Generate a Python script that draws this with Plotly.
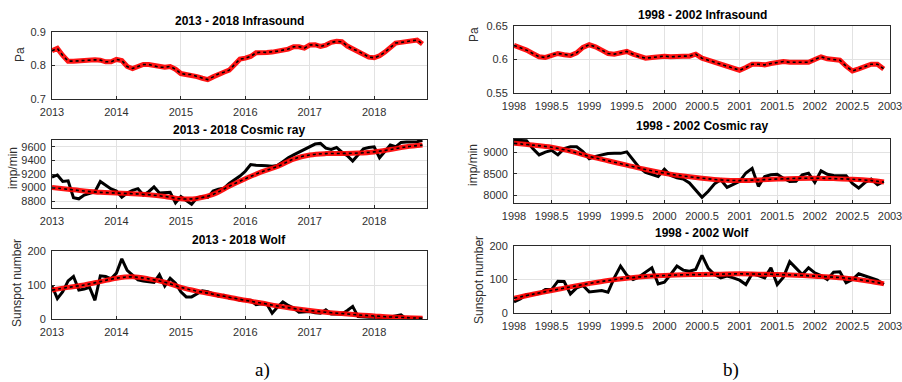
import plotly.graph_objects as go

# ---------------- data: panel a) 2013 - 2018 (monthly, from Jan 2013) ----------------
months_a = list(range(70))
infra_a = [0.844, 0.851, 0.830, 0.813, 0.813, 0.814, 0.816, 0.818, 0.817, 0.816,
           0.811, 0.811, 0.818, 0.815, 0.797, 0.791, 0.798, 0.803, 0.803, 0.800,
           0.795, 0.795, 0.797, 0.789, 0.776, 0.773, 0.773, 0.767, 0.762, 0.758,
           0.766, 0.775, 0.780, 0.786, 0.803, 0.819, 0.822, 0.827, 0.838, 0.840,
           0.839, 0.840, 0.843, 0.846, 0.849, 0.856, 0.856, 0.852, 0.861, 0.862,
           0.857, 0.861, 0.869, 0.872, 0.871, 0.858, 0.849, 0.843, 0.834, 0.825,
           0.823, 0.829, 0.840, 0.855, 0.867, 0.869, 0.872, 0.875, 0.876, 0.864]
cosmic_a = [9153, 9186, 9090, 9100, 8850, 8835, 8890, 8920, 8940, 9090,
            9030, 8980, 8950, 8860, 8920, 8960, 8985, 8890, 8940, 9010,
            8920, 8930, 8930, 8775, 8870, 8810, 8755, 8850, 8870, 8856,
            8950, 8975, 8990, 9060, 9110, 9170, 9240, 9340, 9330, 9320,
            9320, 9315, 9327, 9380, 9440, 9480, 9520, 9550, 9590, 9640,
            9650, 9580, 9560, 9590, 9520, 9470, 9390, 9480, 9570, 9590,
            9600, 9440, 9530, 9625, 9600, 9665, 9670, 9670, 9675, 9694]
wolf_a = [97, 60, 80, 112, 125, 85, 88, 93, 55, 127,
          125, 118, 135, 177, 143, 130, 115, 112, 110, 108,
          130, 97, 120, 105, 80, 65, 65, 75, 83, 80,
          74, 67, 70, 62, 60, 55, 55, 55, 42, 45,
          44, 17, 35, 50, 40, 32, 20, 22, 22, 18,
          17, 27, 15, 15, 15, 25, 37, 7, 5, 5,
          6, 3, 2, 6, 10, 12, 0, 4, 3, 2]
smooth_years_a = [2013.0, 2013.25, 2013.5, 2013.75, 2014.0, 2014.25, 2014.5, 2014.75,
                  2015.0, 2015.25, 2015.5, 2015.75, 2016.0, 2016.25, 2016.5, 2016.75,
                  2017.0, 2017.25, 2017.5, 2017.75, 2018.0, 2018.25, 2018.5, 2018.75]
cosmic_a_smooth = [9000, 8975, 8950, 8930, 8920, 8910, 8895, 8870,
                   8835, 8840, 8900, 9020, 9130, 9230, 9310, 9420,
                   9480, 9500, 9502, 9508, 9525, 9560, 9600, 9625]
wolf_a_smooth = [85, 93, 100, 110, 120, 124, 118, 108,
                 93, 82, 73, 64, 55, 47, 38, 31,
                 25, 20, 16, 12, 9, 6, 4, 2]

# ---------------- data: panel b) 1998 - 2002 (monthly, from Jan 1998) ----------------
months_b = list(range(60))
infra_b = [0.621, 0.618, 0.614, 0.609, 0.604, 0.603, 0.607, 0.609, 0.607, 0.606,
           0.610, 0.618, 0.622, 0.619, 0.614, 0.609, 0.608, 0.610, 0.612, 0.608,
           0.604, 0.602, 0.603, 0.604, 0.605, 0.604, 0.605, 0.605, 0.605, 0.608,
           0.602, 0.599, 0.597, 0.594, 0.591, 0.587, 0.584, 0.588, 0.593, 0.593,
           0.592, 0.594, 0.596, 0.597, 0.596, 0.596, 0.596, 0.596, 0.600, 0.604,
           0.601, 0.600, 0.599, 0.590, 0.583, 0.586, 0.589, 0.593, 0.593, 0.586]
cosmic_b = [9273, 9273, 9260, 9080, 8935, 9000, 9040, 8935, 9080, 9121,
            9121, 9010, 8845, 8900, 8930, 8965, 8970, 8970, 9005, 8830,
            8640, 8530, 8480, 8440, 8606, 8460, 8410, 8380, 8290, 8130,
            7960, 8100, 8270, 8364, 8189, 8260, 8326, 8520, 8625, 8212,
            8439, 8480, 8492, 8400, 8326, 8330, 8477, 8515, 8303, 8568,
            8490, 8460, 8455, 8455, 8280, 8174, 8300, 8379, 8250, 8326]
wolf_b = [33, 42, 55, 55, 58, 70, 70, 95, 94, 57,
          75, 82, 63, 65, 67, 62, 105, 140, 113, 100,
          108, 122, 135, 87, 92, 115, 140, 128, 125, 130,
          172, 133, 115, 105, 110, 105, 98, 85, 117, 112,
          105, 135, 85, 107, 153, 134, 115, 135, 120, 112,
          100, 122, 123, 90, 100, 117, 111, 103, 98, 85]
smooth_years_b = [1998.0, 1998.25, 1998.5, 1998.75, 1999.0, 1999.25, 1999.5, 1999.75,
                  2000.0, 2000.25, 2000.5, 2000.75, 2001.0, 2001.25, 2001.5, 2001.75,
                  2002.0, 2002.25, 2002.5, 2002.75, 2002.92]
cosmic_b_smooth = [9200, 9160, 9110, 9020, 8900, 8800, 8700, 8600,
                   8515, 8450, 8400, 8360, 8345, 8360, 8380, 8395,
                   8400, 8390, 8375, 8345, 8310]
wolf_b_smooth = [44, 56, 67, 78, 88, 97, 104, 109,
                 112, 114, 115, 116, 117, 116, 115, 113,
                 110, 107, 102, 94, 87]

titles = ["2013 - 2018 Infrasound", "2013 - 2018 Cosmic ray", "2013 - 2018 Wolf",
          "1998 - 2002 Infrasound", "1998 - 2002 Cosmic ray", "1998 - 2002 Wolf"]
ylabels = ["Pa", "imp/min", "Sunspot number", "Pa", "imp/min", "Sunspot number"]
xticks_a = [2013, 2014, 2015, 2016, 2017, 2018]
xticks_b = [1998, 1998.5, 1999, 1999.5, 2000, 2000.5, 2001, 2001.5, 2002, 2002.5, 2003]
yticks = [[0.7, 0.8, 0.9], [8800, 9000, 9200, 9400, 9600], [0, 100, 200],
          [0.55, 0.6, 0.65], [8000, 8500, 9000], [0, 100, 200]]
ytick_text = [["0.7", "0.8", "0.9"], ["8800", "9000", "9200", "9400", "9600"], ["0", "100", "200"],
              ["0.55", "0.6", "0.65"], ["8000", "8500", "9000"], ["0", "100", "200"]]

# ---------------- layout geometry (paper fractions) ----------------
W, H = 902, 382
def px_x(x): return x / W
def px_y(y): return 1 - y / H

x_dom = [(52, 427), (514, 890)]
y_dom = [(32, 99), (140, 208), (251, 319), (26, 93), (139, 203), (246, 313)]
y_ranges = [[0.7, 0.9], [8700, 9700], [0, 200], [0.55, 0.65], [7830, 9300], [0, 200]]
x_ranges = [[2013, 2018.82], [1998, 2003]]
title_pos = [21, 130, 240, 15, 126, 233]
ylab_pos = [(20, 55), (13, 168), (17, 283), (474, 35), (473, 165), (479, 280)]

years_a = [2013 + m / 12 for m in months_a]
years_b = [1998 + m / 12 for m in months_b]

fig = go.Figure()

def add_series(idx, xs, ys, data_black, smooth_x=None, smooth_y=None):
    xa = "x" if idx == 0 else f"x{idx + 1}"
    ya = "y" if idx == 0 else f"y{idx + 1}"
    if data_black:
        fig.add_trace(go.Scatter(x=xs, y=ys, mode="lines", xaxis=xa, yaxis=ya,
                                 line=dict(color="black", width=3), showlegend=False,
                                 hoverinfo="skip"))
        sx, sy = smooth_x, smooth_y
        shape = "spline"
    else:
        sx, sy = xs, ys
        shape = "linear"
    fig.add_trace(go.Scatter(x=sx, y=sy, mode="lines", xaxis=xa, yaxis=ya,
                             line=dict(color="rgba(255,0,0,0.92)", width=5, shape=shape),
                             showlegend=False, hoverinfo="skip"))
    fig.add_trace(go.Scatter(x=sx, y=sy, mode="lines", xaxis=xa, yaxis=ya,
                             line=dict(color="black", width=1.6, dash="dot", shape=shape),
                             showlegend=False, hoverinfo="skip"))

add_series(0, years_a, infra_a, False)
add_series(1, years_a, cosmic_a, True, smooth_years_a, cosmic_a_smooth)
add_series(2, years_a, wolf_a, True, smooth_years_a, wolf_a_smooth)
add_series(3, years_b, infra_b, False)
add_series(4, years_b, cosmic_b, True, smooth_years_b, cosmic_b_smooth)
add_series(5, years_b, wolf_b, True, smooth_years_b, wolf_b_smooth)

tickfont = dict(family="Liberation Sans, Arial, sans-serif", size=11, color="#303030")
common = dict(showline=True, linecolor="#2a2a2a", linewidth=1, mirror=True,
              showgrid=True, gridcolor="#e2e2e2", gridwidth=1, zeroline=False,
              ticks="inside", ticklen=3, tickcolor="#2a2a2a", tickfont=tickfont,
              fixedrange=True, automargin=False, ticklabeloverflow="allow")

layout = dict(width=W, height=H, margin=dict(l=0, r=0, t=0, b=0, pad=0),
              paper_bgcolor="white", plot_bgcolor="white", showlegend=False)
annotations = []
for i in range(6):
    p = 0 if i < 3 else 1
    xk = "xaxis" if i == 0 else f"xaxis{i + 1}"
    yk = "yaxis" if i == 0 else f"yaxis{i + 1}"
    ya = "y" if i == 0 else f"y{i + 1}"
    xa = "x" if i == 0 else f"x{i + 1}"
    xt = xticks_a if p == 0 else xticks_b
    layout[xk] = dict(common, domain=[px_x(x_dom[p][0]), px_x(x_dom[p][1])], anchor=ya,
                      range=x_ranges[p], tickvals=xt, ticktext=[str(v) for v in xt],
                      ticklabelstandoff=3)
    layout[yk] = dict(common, domain=[px_y(y_dom[i][1]), px_y(y_dom[i][0])], anchor=xa,
                      range=y_ranges[i], tickvals=yticks[i], ticktext=ytick_text[i],
                      ticklabelstandoff=3)
    cx = (x_dom[p][0] + x_dom[p][1]) / 2
    annotations.append(dict(text=f"<b>{titles[i]}</b>", xref="paper", yref="paper",
                            x=px_x(cx), y=px_y(title_pos[i]), xanchor="center", yanchor="middle",
                            showarrow=False,
                            font=dict(family="Liberation Sans, Arial, sans-serif", size=12, color="black")))
    lx, ly = ylab_pos[i]
    annotations.append(dict(text=ylabels[i], xref="paper", yref="paper", textangle=-90,
                            x=px_x(lx), y=px_y(ly), xanchor="center", yanchor="middle",
                            showarrow=False,
                            font=dict(family="Liberation Sans, Arial, sans-serif", size=12, color="#303030")))

annotations.append(dict(text="a)", xref="paper", yref="paper", x=px_x(262), y=px_y(370),
                        xanchor="center", yanchor="middle", showarrow=False,
                        font=dict(family="Liberation Serif, Times New Roman, serif", size=19, color="black")))
annotations.append(dict(text="b)", xref="paper", yref="paper", x=px_x(731), y=px_y(370),
                        xanchor="center", yanchor="middle", showarrow=False,
                        font=dict(family="Liberation Serif, Times New Roman, serif", size=19, color="black")))
layout["annotations"] = annotations
fig.update_layout(**layout)

fig.write_html("out.html")
